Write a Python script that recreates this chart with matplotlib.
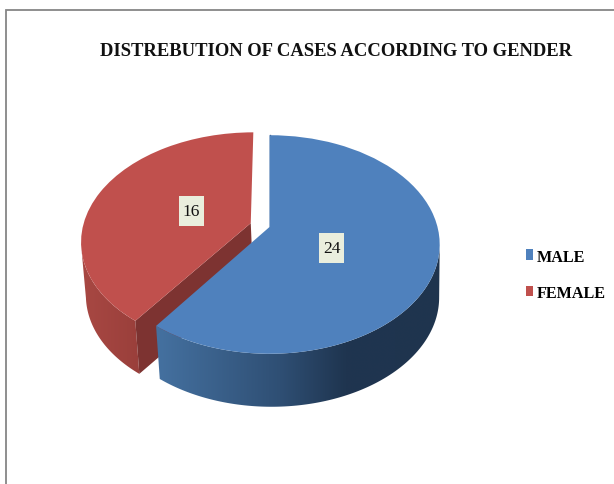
import numpy as np
import matplotlib
matplotlib.use("Agg")
import matplotlib.pyplot as plt
from matplotlib.colors import to_rgb
from matplotlib.patches import Polygon, Rectangle
from matplotlib.transforms import Transform

title = "DISTREBUTION OF CASES ACCORDING TO GENDER"
categories = ["MALE", "FEMALE"]
cases = [24, 16]
explode = [0, 0.118]
top_colors = ["#4F81BD", "#C0504D"]

plt.rcParams["font.family"] = ["Liberation Serif", "DejaVu Serif"]

# the tilted pie: unit circle -> pixels, depth 0 is the top face and 1 the bottom
CX, CY, RX, TILT, RISE, DEPTH = 269.5, 228.0, 168.0, 0.16, -70.0, 53.0


def project(u, v, depth=0.0):
    u, v = np.asarray(u, float), np.asarray(v, float)
    d = 1 + TILT * v
    x = CX + RX * (1 - 0.015 * depth) * u / d + 2 * depth
    y = (CY + RISE * v) / d + DEPTH * depth
    return x, y


class Tilted(Transform):
    input_dims = 2
    output_dims = 2
    is_separable = False

    def transform_non_affine(self, values):
        values = np.asarray(values, float)
        return np.column_stack(project(values[:, 0], values[:, 1]))


def ramp(x, stops):
    xs = [s[0] for s in stops]
    rgb = np.array([to_rgb(s[1]) for s in stops])
    return np.column_stack([np.interp(x, xs, rgb[:, i]) for i in range(3)])


def outer_wall(ax, wedge, stops, zorder):
    angles = np.radians(np.linspace(wedge.theta1, wedge.theta2, 300))
    u = wedge.center[0] + np.cos(angles)
    v = wedge.center[1] + np.sin(angles)
    # only the near part of the rim shows, it starts at the widest point of the ellipse
    near = v <= -TILT
    xt, yt = project(u[near], v[near])
    xb, yb = project(u[near], v[near], 1)
    outline = np.column_stack([np.r_[xt, xb[::-1]], np.r_[yt, yb[::-1]]])
    x0, x1 = outline[:, 0].min(), outline[:, 0].max()
    grid = np.linspace(x0, x1, 300)
    im = ax.imshow(ramp(grid, stops)[None, :, :], extent=(x0, x1, outline[:, 1].max(), outline[:, 1].min()),
                   aspect="auto", zorder=zorder, interpolation="bilinear")
    im.set_clip_path(Polygon(outline, closed=True, transform=ax.transData))


def radial_wall(ax, wedge, angle, color, zorder):
    a = np.radians(angle)
    u = np.array([wedge.center[0], wedge.center[0] + np.cos(a)])
    v = np.array([wedge.center[1], wedge.center[1] + np.sin(a)])
    xt, yt = project(u, v)
    xb, yb = project(u, v, 1)
    ax.fill([xt[0], xt[1], xb[1], xb[0]], [yt[0], yt[1], yb[1], yb[0]], color=color, lw=0, zorder=zorder)


fig = plt.figure(figsize=(6.14, 4.85), dpi=100, facecolor="white")
ax = fig.add_axes([0, 0, 1, 1])

wedges, _ = ax.pie(cases, explode=explode, colors=top_colors, startangle=90, counterclock=False,
                   wedgeprops={"linewidth": 0})
male, female = wedges

tilted = Tilted()
for w in wedges:
    w.set_transform(tilted + ax.transData)
female.set_zorder(3)
male.set_zorder(5)

# walls: female first, male in front of it
outer_wall(ax, female, [(82, "#A84843"), (139, "#9A3F3B")], 2)
radial_wall(ax, female, female.theta2, "#7D3331", 2.5)
outer_wall(ax, male, [(160, "#44709F"), (280, "#2F4F74"), (345, "#1F3550"), (445, "#1F344E")], 4)

# thin dark sliver where the male slice's back wall shows
a = np.radians(male.theta2)
xs, ys = project([0, np.cos(a)], [0, np.sin(a)])
ax.plot(xs, ys, color="#1F3550", lw=0.9, zorder=4)

# data labels
for value, cx, cy in zip(cases, [331.5, 191.5], [249, 212]):
    ax.add_patch(Rectangle((cx - 12.5, cy - 15), 25, 30, facecolor="#EAEEDD", edgecolor="none", zorder=6))
    ax.text(cx, cy, str(value), ha="center", va="center", fontsize=12.5, color="#111111", zorder=7)

ax.text(336, 51.5, title, ha="center", va="center", fontsize=13.4, fontweight="bold", color="#111111")

ax.plot([5.5, 5.5, 614], [485, 11, 11], color="#868686", lw=1.3, solid_joinstyle="miter")

ax.legend(wedges, categories, loc="upper left", bbox_to_anchor=(525.5, 249.5), bbox_transform=ax.transData,
          frameon=False, borderpad=0, borderaxespad=0, handlelength=0.47, handleheight=0.65,
          handletextpad=0.25, labelspacing=1.25,
          prop={"family": "Liberation Serif", "weight": "bold", "size": 11.6})

ax.set_aspect("auto")
ax.set_xlim(0, 614)
ax.set_ylim(485, 0)
ax.axis("off")

fig.savefig("out.png", dpi=100)
